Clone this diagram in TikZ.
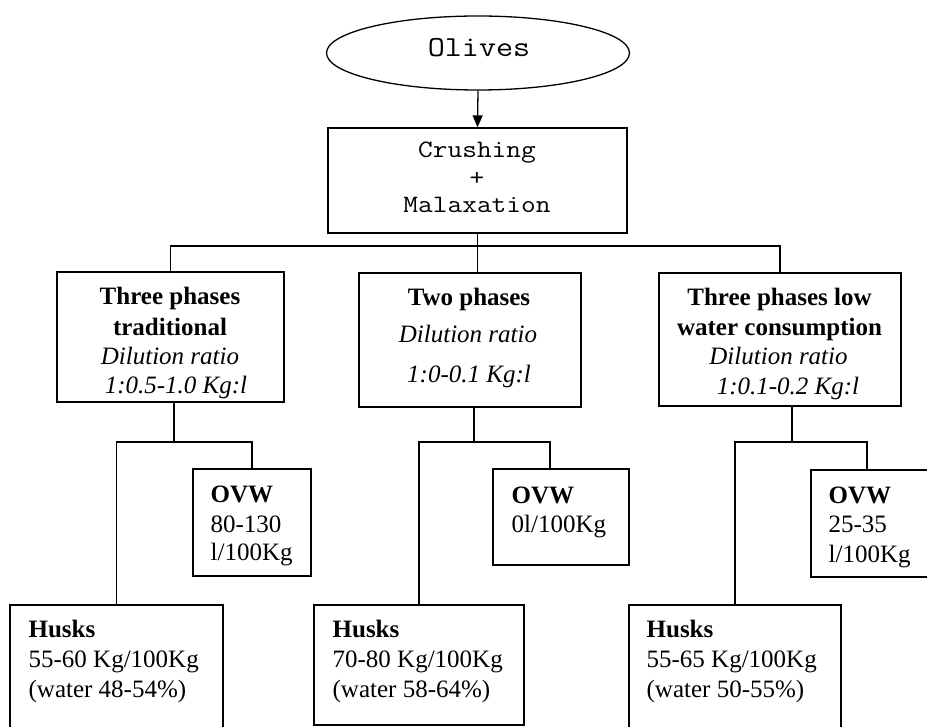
\documentclass[tikz,border=0pt]{standalone}
\usepackage{fontspec}
\setmainfont{Liberation Serif}
\usetikzlibrary{shapes.geometric,arrows.meta}
\newcommand\courtext[1]{\scalebox{1.143}[1]{\ttfamily #1}}
\begin{document}
\begin{tikzpicture}[x=1pt,y=-1pt,line width=1.3pt,
  box/.style={draw,rectangle,inner sep=0pt},
  oval/.style={draw,ellipse,inner sep=0pt},
  txt/.style={inner sep=0pt,anchor=base,font=\fontsize{25}{30}\selectfont},
  txtl/.style={txt,anchor=base west},
  mono/.style={inner sep=0pt,anchor=base,font=\fontsize{25}{30}\selectfont},
  conn/.style={draw,line width=1.3pt},
  arr/.style={conn,-{Triangle[length=12pt,width=10pt]}}]
\clip (0,0) rectangle (927,727);
\useasboundingbox (0,0) rectangle (927,727);

% shapes
\node[oval,minimum width=303pt,minimum height=74pt] (olives) at (478,53) {};
\node[box,minimum width=299pt,minimum height=105pt] (crush) at (477.5,180.5) {};
\node[box,minimum width=227pt,minimum height=130pt] (b1) at (170.5,337) {};
\node[box,minimum width=222pt,minimum height=134pt] (b2) at (470,340) {};
\node[box,minimum width=242pt,minimum height=133pt] (b3) at (780,339.5) {};
\node[box,minimum width=118pt,minimum height=107pt] (o1) at (252,522.5) {};
\node[box,minimum width=136pt,minimum height=96pt] (o2) at (561,517) {};
\node[box,minimum width=129pt,minimum height=107pt] (o3) at (875.5,523.5) {};
\node[box,minimum width=213pt,minimum height=135pt] (h1) at (116.5,672.5) {};
\node[box,minimum width=210pt,minimum height=120pt] (h2) at (419,665) {};
\node[box,minimum width=212pt,minimum height=135pt] (h3) at (735,672.5) {};

% texts
\node[mono,font=\fontsize{29}{34}\selectfont] (tol) at (479,57) {\courtext{Olives}};
\node[mono] (tc1) at (477,158) {\courtext{Crushing}};
\node[mono] (tc2) at (477,186) {\courtext{+}};
\node[mono] (tc3) at (477,213) {\courtext{Malaxation}};

\node[txt] (t11) at (170,305) {\bfseries Three phases};
\node[txt] (t12) at (170,336) {\bfseries traditional};
\node[txt] (t13) at (170,365) {\itshape Dilution ratio};
\node[txt] (t14) at (176,394) {\itshape 1:0.5-1.0 Kg:l};

\node[txt] (t21) at (469,306) {\bfseries Two phases};
\node[txt] (t22) at (468,343) {\itshape Dilution ratio};
\node[txt] (t23) at (469,383) {\itshape 1:0-0.1 Kg:l};

\node[txt] (t31) at (779.5,306) {\bfseries Three phases low};
\node[txt] (t32) at (779.5,336) {\bfseries water consumption};
\node[txt] (t33) at (778.5,365) {\itshape Dilution ratio};
\node[txt] (t34) at (788,395) {\itshape 1:0.1-0.2 Kg:l};

\node[txtl] (to11) at (210,502) {\bfseries OVW};
\node[txtl] (to12) at (210,532) {80-130};
\node[txtl] (to13) at (210,560) {l/100Kg};
\node[txtl] (to21) at (511,503) {\bfseries OVW};
\node[txtl] (to22) at (511,532) {0l/100Kg};
\node[txtl] (to31) at (828,503) {\bfseries OVW};
\node[txtl] (to32) at (828,532) {25-35};
\node[txtl] (to33) at (828,562) {l/100Kg};

\node[txtl] (th11) at (28,637) {\bfseries Husks};
\node[txtl] (th12) at (28,667) {55-60 Kg/100Kg};
\node[txtl] (th13) at (28,697) {(water 48-54\%)};
\node[txtl] (th21) at (332,637) {\bfseries Husks};
\node[txtl] (th22) at (332,667) {70-80 Kg/100Kg};
\node[txtl] (th23) at (332,697) {(water 58-64\%)};
\node[txtl] (th31) at (646,637) {\bfseries Husks};
\node[txtl] (th32) at (646,667) {55-65 Kg/100Kg};
\node[txtl] (th33) at (646,697) {(water 50-55\%)};

% connectors
\draw[arr] (olives.south) -- (crush.north);
\coordinate (bus) at (478,246);
\draw[conn] (crush.south) -- (crush.south |- b2.north);
\draw[conn] (b1.north) |- (bus) -| (b3.north);

\coordinate (j1) at (174,442);
\draw[conn] (b1.south -| j1) -- (j1);
\draw[conn] (h1.north) |- (j1) -| (o1.north);

\coordinate (j2) at (474,442);
\coordinate (j2r) at (550,442);
\draw[conn] (b2.south -| j2) -- (j2);
\draw[conn] (h2.north) |- (j2) -- (j2r) -- (j2r |- o2.north);

\coordinate (j3) at (792,442);
\coordinate (j3r) at (867,442);
\draw[conn] (b3.south -| j3) -- (j3);
\draw[conn] (h3.north) |- (j3) -- (j3r) -- (j3r |- o3.north);
\end{tikzpicture}
\end{document}
